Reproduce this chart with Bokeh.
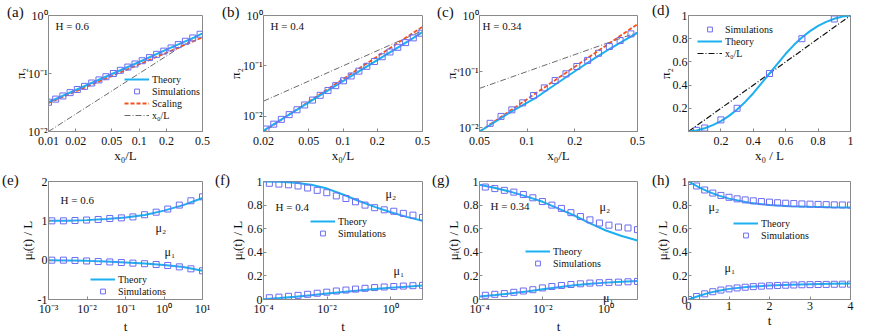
from bokeh.plotting import figure
from bokeh.models import FixedTicker, Legend, LegendItem, Label, Range1d, GridBox, Div
from bokeh.embed import file_html
from bokeh.resources import INLINE

# ---------------- data ----------------
# (a) H = 0.6
a_sim_x = [0.0100, 0.0120, 0.0144, 0.0173, 0.0208, 0.0250, 0.0300, 0.0360, 0.0430, 0.0520, 0.0620,
           0.0750, 0.0900, 0.108, 0.130, 0.156, 0.187, 0.225, 0.270, 0.324, 0.390, 0.470]
a_sim_y = [0.0320, 0.0362, 0.0410, 0.0468, 0.0530, 0.0600, 0.0685, 0.0775, 0.0880, 0.1000, 0.1135,
           0.129, 0.146, 0.166, 0.188, 0.214, 0.243, 0.276, 0.315, 0.360, 0.410, 0.475]
a_th_x = [0.01, 0.02, 0.05, 0.1, 0.2, 0.3, 0.4, 0.5]
a_th_y = [0.032, 0.052, 0.098, 0.158, 0.258, 0.34, 0.415, 0.49]
a_sc_x = [0.01, 0.5]
a_sc_y = [0.031, 0.42]
a_diag = [0.01, 0.5]

# (b) H = 0.4
b_sim_x = [0.021, 0.0246, 0.0287, 0.0336, 0.0394, 0.046, 0.0539, 0.063, 0.0738, 0.0863, 0.101,
           0.118, 0.138, 0.162, 0.189, 0.221, 0.259, 0.303, 0.355, 0.415, 0.486]
b_sim_y = [0.0056, 0.0070, 0.0087, 0.0108, 0.0135, 0.0168, 0.0210, 0.0261, 0.0326, 0.0406, 0.0507,
           0.0632, 0.0788, 0.0983, 0.122, 0.152, 0.189, 0.234, 0.29, 0.36, 0.445]
b_th_x = [0.02, 0.05, 0.1, 0.2, 0.3, 0.4, 0.5]
b_th_y = [0.0052, 0.0189, 0.050, 0.130, 0.228, 0.34, 0.47]
b_sc_x = [0.02, 0.5]
b_sc_y = [0.0050, 0.60]
b_diag = [0.02, 0.5]

# (c) H = 0.34
c_sim_x = [0.0584, 0.0684, 0.0801, 0.0938, 0.1098, 0.1286, 0.1506, 0.1763, 0.2065, 0.2418,
           0.2831, 0.3315, 0.3882, 0.4546]
c_sim_y = [0.0119, 0.0158, 0.0207, 0.0276, 0.0373, 0.051, 0.069, 0.091, 0.123, 0.158,
           0.212, 0.28, 0.358, 0.47]
c_th_x = [0.05, 0.0584, 0.08, 0.1126, 0.15, 0.212, 0.27, 0.338, 0.42, 0.5]
c_th_y = [0.0085, 0.0111, 0.0195, 0.0334, 0.058, 0.112, 0.175, 0.26, 0.37, 0.49]
c_sc_x = [0.05, 0.5]
c_sc_y = [0.0085, 0.70]
c_diag = [0.05, 0.5]

# (d)
d_sim_x = [0.05, 0.1, 0.2, 0.3, 0.5, 0.7, 0.9]
d_sim_y = [0.01, 0.03, 0.1, 0.2, 0.5, 0.8, 0.97]
d_th_x = [0.0, 0.05, 0.1, 0.15, 0.2, 0.25, 0.3, 0.35, 0.4, 0.45, 0.5, 0.55, 0.6, 0.65, 0.7, 0.75,
          0.8, 0.85, 0.9, 0.95, 1.0]
d_th_y = [0.0, 0.008, 0.028, 0.055, 0.09, 0.135, 0.19, 0.255, 0.33, 0.415, 0.5, 0.585, 0.67,
          0.745, 0.81, 0.865, 0.91, 0.945, 0.972, 0.992, 1.0]
d_diag = [0.0, 1.0]

# (e) H = 0.6
e_sim_t = [0.00122, 0.00244, 0.00488, 0.00977, 0.0195, 0.0391, 0.0781, 0.156, 0.3125, 0.625,
           1.25, 2.5, 5, 10]
e_sim_mu2 = [1.0, 1.0, 1.008, 1.02, 1.035, 1.06, 1.075, 1.10, 1.155, 1.22, 1.30, 1.40, 1.51, 1.61]
e_sim_mu1 = [0.0, 0.0, -0.008, -0.02, -0.035, -0.045, -0.06, -0.075, -0.09, -0.11, -0.135,
             -0.17, -0.22, -0.27]
e_th_t = [0.001, 0.00316, 0.01, 0.0316, 0.1, 0.316, 1, 3.16, 10]
e_th_mu2 = [1.0, 1.005, 1.018, 1.045, 1.085, 1.15, 1.26, 1.40, 1.58]
e_th_mu1 = [0.0, -0.006, -0.018, -0.035, -0.058, -0.085, -0.12, -0.175, -0.27]

# (f) H = 0.4 and (g) H = 0.34
fg_sim_t = [0.000153, 0.000305, 0.00061, 0.00122, 0.00244, 0.00488, 0.00977, 0.0195, 0.0391,
            0.0781, 0.156, 0.3125, 0.625, 1.25, 2.5, 5, 10]
fg_th_t = [1e-4, 3.16e-4, 1e-3, 3.16e-3, 1e-2, 3.16e-2, 0.1, 0.316, 1, 3.16, 10]
f_sim_mu2 = [0.985, 0.978, 0.972, 0.962, 0.945, 0.925, 0.905, 0.878, 0.856, 0.828, 0.80, 0.778,
             0.76, 0.748, 0.73, 0.715, 0.695]
f_sim_mu1 = [0.015, 0.02, 0.027, 0.035, 0.044, 0.053, 0.062, 0.072, 0.08, 0.088, 0.095, 0.101,
             0.106, 0.11, 0.114, 0.117, 0.12]
f_th_mu2 = [1.0, 0.997, 0.99, 0.972, 0.94, 0.89, 0.835, 0.785, 0.74, 0.70, 0.668]
f_th_mu1 = [0.003, 0.012, 0.024, 0.037, 0.05, 0.063, 0.076, 0.088, 0.099, 0.109, 0.118]
g_sim_mu2 = [0.953, 0.94, 0.925, 0.91, 0.89, 0.862, 0.83, 0.80, 0.772, 0.736, 0.703, 0.675,
             0.648, 0.63, 0.614, 0.606, 0.592]
g_sim_mu1 = [0.036, 0.044, 0.05, 0.061, 0.072, 0.083, 0.098, 0.11, 0.119, 0.127, 0.133, 0.139,
             0.142, 0.145, 0.147, 0.15, 0.153]
g_th_mu2 = [0.972, 0.945, 0.912, 0.872, 0.828, 0.77, 0.712, 0.645, 0.585, 0.538, 0.50]
g_th_mu1 = [0.025, 0.038, 0.052, 0.068, 0.086, 0.104, 0.12, 0.133, 0.143, 0.151, 0.157]

# (h)
h_sim_t = [0.0, 0.2, 0.4, 0.6, 0.8, 1.0, 1.2, 1.4, 1.6, 1.8, 2.0, 2.2, 2.4, 2.6, 2.8, 3.0, 3.2,
           3.4, 3.6, 3.8, 4.0]
h_sim_mu2 = [1.0, 0.962, 0.928, 0.902, 0.882, 0.866, 0.853, 0.844, 0.836, 0.83, 0.825, 0.82,
             0.816, 0.813, 0.81, 0.808, 0.806, 0.804, 0.802, 0.801, 0.80]
h_sim_mu1 = [0.0, 0.025, 0.048, 0.066, 0.08, 0.09, 0.098, 0.104, 0.109, 0.113, 0.116, 0.119,
             0.121, 0.123, 0.125, 0.126, 0.127, 0.128, 0.129, 0.13, 0.13]
h_th_t = [0, 0.25, 0.5, 0.75, 1, 1.5, 2, 2.5, 3, 3.5, 4]
h_th_mu2 = [1.0, 0.952, 0.912, 0.88, 0.855, 0.82, 0.80, 0.79, 0.785, 0.782, 0.78]
h_th_mu1 = [0.0, 0.03, 0.056, 0.075, 0.09, 0.108, 0.118, 0.125, 0.13, 0.133, 0.135]

# tick values and labels
a_xticks = [0.01, 0.02, 0.05, 0.1, 0.2, 0.5]
a_xlabels = ["0.01", "0.02", "0.05", "0.1", "0.2", "0.5"]
b_xticks = [0.02, 0.05, 0.1, 0.2, 0.5]
b_xlabels = ["0.02", "0.05", "0.1", "0.2", "0.5"]
c_xticks = [0.05, 0.1, 0.2, 0.5]
c_xlabels = ["0.05", "0.1", "0.2", "0.5"]
pi_yticks = [0.01, 0.1, 1.0]
pi_ylabels = ["10⁻²", "10⁻¹", "10⁰"]
d_ticks = [0.2, 0.4, 0.6, 0.8, 1.0]
d_labels = ["0.2", "0.4", "0.6", "0.8", "1"]
e_xticks = [0.001, 0.01, 0.1, 1.0, 10.0]
e_xlabels = ["10⁻³", "10⁻²", "10⁻¹", "10⁰", "10¹"]
e_yticks = [-1, 0, 1, 2]
e_ylabels = ["-1", "0", "1", "2"]
fg_xticks = [0.0001, 0.01, 1.0]
fg_xlabels = ["10⁻⁴", "10⁻²", "10⁰"]
mu_yticks = [0, 0.2, 0.4, 0.6, 0.8, 1.0]
mu_ylabels = ["0", "0.2", "0.4", "0.6", "0.8", "1"]
h_xticks = [0, 1, 2, 3, 4]
h_xlabels = ["0", "1", "2", "3", "4"]

panel_letters = ["(a)", "(b)", "(c)", "(d)", "(e)", "(f)", "(g)", "(h)"]

# ---------------- styling ----------------
FONT = "Liberation Serif"
C_TH = "#1cb0f0"
C_SIM = "#6c6cf0"
C_SC = "#f4511e"
AX = "#8a8a8a"
TXT = "#111111"
W, H = 872, 336


def style_axis(ax, ticks, labels, label, standoff, label_standoff):
    ax.ticker = FixedTicker(ticks=ticks)
    ax.major_label_overrides = {t: l for t, l in zip(ticks, labels)}
    ax.major_tick_in = 3
    ax.major_tick_out = 0
    ax.minor_tick_line_color = None
    ax.axis_line_color = AX
    ax.major_tick_line_color = AX
    ax.major_label_text_font = FONT
    ax.major_label_text_font_size = "12px"
    ax.major_label_text_color = TXT
    ax.major_label_standoff = standoff
    ax.axis_label = label
    ax.axis_label_text_font = FONT
    ax.axis_label_text_font_size = "13px"
    ax.axis_label_text_font_style = "normal"
    ax.axis_label_text_color = TXT
    ax.axis_label_standoff = label_standoff


def make_fig(w, h, borders, xr, yr, xlog, ylog, xt, xl, yt, yl, xlab, ylab, xstand, ystand):
    left, right, top, bottom = borders
    p = figure(width=w, height=h, title=None,
               x_range=Range1d(*xr), y_range=Range1d(*yr),
               x_axis_type="log" if xlog else "linear",
               y_axis_type="log" if ylog else "linear",
               output_backend="svg", toolbar_location=None,
               min_border_left=left, min_border_right=right,
               min_border_top=top, min_border_bottom=bottom)
    p.grid.visible = False
    p.outline_line_color = AX
    p.background_fill_color = "white"
    p.border_fill_color = "white"
    style_axis(p.xaxis[0], xt, xl, xlab, xstand[0], xstand[1])
    style_axis(p.yaxis[0], yt, yl, ylab, ystand[0], ystand[1])
    return p


def text(p, x, y, s, size="11px", align="left"):
    p.add_layout(Label(x=x, y=y, x_units="screen", y_units="screen", text=s,
                       text_font=FONT, text_font_size=size, text_baseline="middle",
                       text_align=align, text_color=TXT))


def legend(p, items, loc):
    lg = Legend(items=[LegendItem(label=lab, renderers=[r]) for lab, r in items],
                location=loc, padding=2, margin=0, spacing=0,
                glyph_width=25, glyph_height=12, label_height=12, label_standoff=3,
                label_text_font=FONT, label_text_font_size="10px", label_text_color=TXT,
                background_fill_alpha=0, border_line_alpha=0)
    p.add_layout(lg)


TOP_H = 173
BOT_H = 163


def pi_panel(w, borders, xr, yr, xt, xl, sx, sy, tx, ty, scx, scy, diag, htext, hx, leg_loc):
    p = make_fig(w, TOP_H, borders, xr, yr, True, True, xt, xl, pi_yticks, pi_ylabels,
                 "x₀/L", "π₂", (5, 0), (1, -3))
    r_diag = p.line(diag, diag, line_color="#444444", line_width=0.8, line_dash="6 2 1 2")
    r_sc = p.line(scx, scy, line_color=C_SC, line_width=1.8, line_dash="4 2")
    r_th = p.line(tx, ty, line_color=C_TH, line_width=2)
    r_sim = p.scatter(sx, sy, marker="square", size=6, fill_color=None, line_color=C_SIM, line_width=1)
    text(p, hx, 106, htext)
    if leg_loc is not None:
        legend(p, [("Theory", r_th), ("Simulations", r_sim), ("Scaling", r_sc), ("x₀/L", r_diag)], leg_loc)
    return p


pa = pi_panel(216, (48, 9, 15, 42), (0.01, 0.5), (0.01, 1.0), a_xticks, a_xlabels,
              a_sim_x, a_sim_y, a_th_x, a_th_y, a_sc_x, a_sc_y, a_diag, "H = 0.6", 7, (74, 8))
pb = pi_panel(216, (47, 10, 15, 42), (0.02, 0.5), (0.005, 1.0), b_xticks, b_xlabels,
              b_sim_x, b_sim_y, b_th_x, b_th_y, b_sc_x, b_sc_y, b_diag, "H = 0.4", 7, None)
pc = pi_panel(218, (47, 13, 15, 42), (0.05, 0.5), (0.0085, 1.0), c_xticks, c_xlabels,
              c_sim_x, c_sim_y, c_th_x, c_th_y, c_sc_x, c_sc_y, c_diag, "H = 0.34", 3, None)

# (d)
pd_ = make_fig(222, TOP_H, (38, 21, 15, 41), (0, 1), (0, 1), False, False,
               d_ticks, d_labels, d_ticks, d_labels, "x₀ / L", "π₂", (5, 0), (1, -3))
r_d_diag = pd_.line(d_diag, d_diag, line_color="#111111", line_width=1.2, line_dash="6 2 1 2")
r_d_th = pd_.line(d_th_x, d_th_y, line_color=C_TH, line_width=2)
r_d_sim = pd_.scatter(d_sim_x, d_sim_y, marker="square", size=6, fill_color=None, line_color=C_SIM, line_width=1)
legend(pd_, [("Simulations", r_d_sim), ("Theory", r_d_th), ("x₀/L", r_d_diag)], (7, 70))


def mu_panel(w, borders, xr, yr, xlog, xt, xl, yt, yl, st, s2, s1, tt, t2, t1,
             htext, hpos, mu2pos, mu1pos, leg_loc):
    p = make_fig(w, BOT_H, borders, xr, yr, xlog, False, xt, xl, yt, yl, "t", "μᵢ(t) / L",
                 (2, 0), (1, 0))
    r_th = p.line(tt, t2, line_color=C_TH, line_width=2)
    p.line(tt, t1, line_color=C_TH, line_width=2)
    r_sim = p.scatter(st, s2, marker="square", size=6, fill_color=None, line_color=C_SIM, line_width=1)
    p.scatter(st, s1, marker="square", size=6, fill_color=None, line_color=C_SIM, line_width=1)
    if htext:
        text(p, hpos[0], hpos[1], htext)
    text(p, mu2pos[0], mu2pos[1], "μ₂", size="12px")
    if mu1pos is not None:
        text(p, mu1pos[0], mu1pos[1], "μ₁", size="12px")
    legend(p, [("Theory", r_th), ("Simulations", r_sim)], leg_loc)
    return p


pe = mu_panel(216, (43, 14, 8, 35), (0.001, 10), (-1, 2), True, e_xticks, e_xlabels,
              e_yticks, e_ylabels, e_sim_t, e_sim_mu2, e_sim_mu1, e_th_t, e_th_mu2, e_th_mu1,
              "H = 0.6", (12, 100), (107, 72), (116, 48), (40, 0))
pf = mu_panel(216, (42, 9, 8, 35), (0.0001, 10), (0, 1), True, fg_xticks, fg_xlabels,
              mu_yticks, mu_ylabels, fg_sim_t, f_sim_mu2, f_sim_mu1, fg_th_t, f_th_mu2, f_th_mu1,
              "H = 0.4", (12, 93), (122, 106), (130, 29), (45, 58))
pg = mu_panel(218, (42, 12, 8, 35), (0.0001, 10), (0, 1), True, fg_xticks, fg_xlabels,
              mu_yticks, mu_ylabels, fg_sim_t, g_sim_mu2, g_sim_mu1, fg_th_t, g_th_mu2, g_th_mu1,
              "H = 0.34", (11, 94), (120, 93), None, (44, 28))
ph = mu_panel(222, (38, 22, 8, 33), (0, 4), (0, 1), False, h_xticks, h_xlabels,
              mu_yticks, mu_ylabels, h_sim_t, h_sim_mu2, h_sim_mu1, h_th_t, h_th_mu2, h_th_mu1,
              None, None, (20, 93), (36, 32), (43, 56))

# HTML layer on top of the panels for the texts outside the axes boxes
def span(s, x, y, size):
    return ('<span style="position:absolute;left:%dpx;top:%dpx;font-family:\'Liberation Serif\';'
            'font-size:%dpx;line-height:%dpx;color:%s;white-space:nowrap;">%s</span>'
            % (x, y - size // 2, size, size, TXT, s))


letter_pos = [(7, 12), (222, 12), (437, 12), (652, 10), (2, 180), (215, 180), (432, 180), (652, 180)]
html = "".join(span(s, x, y, 15) for s, (x, y) in zip(panel_letters, letter_pos))
html += span("μ₁", 603, 298, 12)
overlay = Div(text='<div style="position:relative;width:%dpx;height:%dpx;">%s</div>' % (W, H, html),
              width=W, height=H, margin=0)

grid = GridBox(children=[(pa, 0, 0), (pb, 0, 1), (pc, 0, 2), (pd_, 0, 3),
                         (pe, 1, 0), (pf, 1, 1), (pg, 1, 2), (ph, 1, 3),
                         (overlay, 0, 0, 2, 4)], spacing=0)
open("out.html", "w").write(file_html(grid, INLINE))
